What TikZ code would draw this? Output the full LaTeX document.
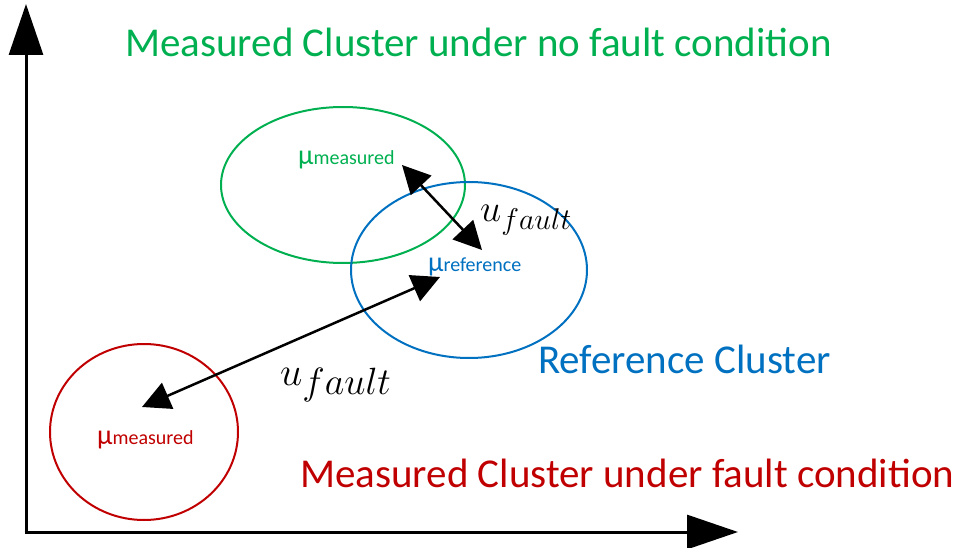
\RequirePackage{fix-cm}
\documentclass[tikz,border=0pt]{standalone}
\usepackage{fontspec}
\setmainfont{Carlito}
\usetikzlibrary{arrows.meta,shapes.geometric}
\definecolor{cgreen}{RGB}{0,176,80}
\definecolor{cblue}{RGB}{0,112,192}
\definecolor{cred}{RGB}{192,0,0}
\tikzset{
  cluster/.style={draw=#1, ellipse, line width=2pt, inner sep=0pt},
  caption/.style={text=#1, anchor=base west, inner sep=0pt,
    font=\fontsize{41}{45}\selectfont},
  meanlbl/.style={text=#1, anchor=base west, inner sep=0pt},
  axis/.style={line width=3pt, -{Triangle[length=51pt,width=34pt]}},
  dist/.style={line width=2.5pt,
    {Triangle[length=28pt,width=28pt]}-{Triangle[length=28pt,width=28pt]}},
  distlbl/.style={anchor=base west, inner sep=0pt}
}
\newcommand{\meanof}[1]{{\fontsize{28}{28}\selectfont μ}{\fontsize{20}{20}\selectfont #1}}
\begin{document}
\begin{tikzpicture}[x=1pt,y=-1pt]
  \useasboundingbox (0,0) rectangle (953,548);

  % axes
  \coordinate (origin) at (26,532);
  \coordinate (ytip) at (26,4);
  \coordinate (xtip) at (738,532);
  \draw[axis] (26,533.5) -- (ytip);
  \draw[axis] (24.5,532) -- (xtip);

  % clusters
  \node[cluster=cgreen, minimum width=244pt, minimum height=156pt] (green) at (343,185) {};
  \node[cluster=cblue, minimum width=236pt, minimum height=176pt] (blue) at (469,270) {};
  \node[cluster=cred, minimum width=188pt, minimum height=176pt] (red) at (144,432) {};

  % cluster captions
  \node[caption=cgreen] (capgreen) at (125,57) {Measured Cluster under no fault condition};
  \node[caption=cblue] (capblue) at (538,373) {Reference Cluster};
  \node[caption=cred] (capred) at (300,487) {Measured Cluster under fault condition};

  % cluster means
  \node[meanlbl=cgreen] (mugreen) at (298,165) {\meanof{measured}};
  \node[meanlbl=cblue] (mublue) at (428,271) {\meanof{reference}};
  \node[meanlbl=cred] (mured) at (97,444) {\meanof{measured}};

  % distances between means
  \coordinate (ga) at (402,165);
  \coordinate (gb) at (482,250);
  \coordinate (ra) at (142,407);
  \coordinate (rb) at (440,277);
  \draw[dist] (ga) -- (gb);
  \draw[dist] (ra) -- (rb);

  \node[distlbl] (ufa) at (480,222)
    {{\fontsize{38}{38}\selectfont$u$}\raisebox{-8pt}{\fontsize{30}{30}\selectfont$fault$}};
  \node[distlbl] (ufb) at (280,385)
    {{\fontsize{40}{40}\selectfont$u$}\raisebox{-9pt}{\fontsize{38}{38}\selectfont$fault$}};
\end{tikzpicture}
\end{document}
